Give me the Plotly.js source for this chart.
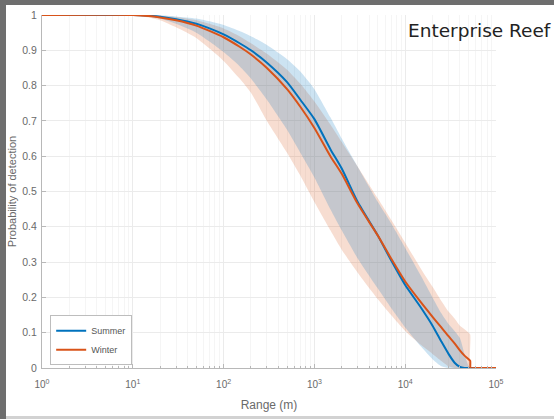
<!DOCTYPE html>
<html><head><meta charset="utf-8">
<script src="https://cdn.plot.ly/plotly-3.0.1.min.js"></script>
<style>
html,body{margin:0;padding:0;width:554px;height:419px;overflow:hidden;background:#6e6e6e;}
#frame{position:absolute;left:6px;top:5px;width:548px;height:414px;background:#d2d2d2;}
#chart{position:absolute;left:0;top:0;width:548px;height:411px;background:#fff;}
</style></head><body>
<div id="frame"><div id="chart"></div></div>
<script>
// Range (m)
const rangeM = [1, 10, 15, 20, 30, 50, 70, 100, 150, 200, 300, 500, 700, 1000, 1500, 2000, 3000, 5000, 7000, 10000, 15000, 20000, 25000, 30000, 35000, 40000, 45000, 50000, 52000, 52500, 60000, 100000];
// Mean probability of detection
const summerMean = [1, 1, 0.998, 0.995, 0.988, 0.975, 0.962, 0.945, 0.92, 0.90, 0.865, 0.81, 0.76, 0.705, 0.62, 0.565, 0.47, 0.375, 0.305, 0.235, 0.17, 0.12, 0.075, 0.04, 0.015, 0.003, 0, 0, 0, 0, 0, 0];
const winterMean = [1, 1, 0.997, 0.993, 0.985, 0.97, 0.955, 0.937, 0.91, 0.888, 0.85, 0.79, 0.74, 0.68, 0.6, 0.55, 0.465, 0.375, 0.31, 0.245, 0.185, 0.145, 0.115, 0.09, 0.07, 0.05, 0.035, 0.025, 0.02, 0, 0, 0];
// Confidence bands
const summerUpper = [1, 1, 1, 0.999, 0.996, 0.99, 0.982, 0.972, 0.955, 0.94, 0.915, 0.875, 0.84, 0.79, 0.71, 0.65, 0.57, 0.47, 0.41, 0.34, 0.26, 0.2, 0.155, 0.125, 0.105, 0.085, 0.04, 0.005, 0, 0, 0, 0];
const summerLower = [1, 1, 0.995, 0.99, 0.975, 0.95, 0.925, 0.895, 0.855, 0.82, 0.76, 0.675, 0.61, 0.54, 0.45, 0.39, 0.31, 0.225, 0.17, 0.115, 0.06, 0.025, 0.005, 0, 0, 0, 0, 0, 0, 0, 0, 0];
const winterUpper = [1, 1, 0.999, 0.998, 0.994, 0.985, 0.975, 0.962, 0.94, 0.92, 0.89, 0.845, 0.805, 0.755, 0.69, 0.64, 0.57, 0.48, 0.42, 0.355, 0.28, 0.23, 0.19, 0.16, 0.14, 0.12, 0.11, 0.1, 0.095, 0, 0, 0];
const winterLower = [1, 1, 0.993, 0.985, 0.965, 0.935, 0.905, 0.87, 0.82, 0.78, 0.70, 0.61, 0.545, 0.47, 0.39, 0.335, 0.27, 0.195, 0.15, 0.105, 0.065, 0.04, 0.02, 0.005, 0, 0, 0, 0, 0, 0, 0, 0];

const xTickVals = [1, 10, 100, 1000, 10000, 100000];
const xTickText = ['10<sup>0</sup>', '10<sup>1</sup>', '10<sup>2</sup>', '10<sup>3</sup>', '10<sup>4</sup>', '10<sup>5</sup>'];
const seriesNames = ['Summer', 'Winter'];
const titleText = 'Enterprise Reef';

const blue = '#0072BD', orange = '#D95319';
const shp = {shape: 'spline', smoothing: 0.6};

const traces = [
  {x: rangeM, y: winterLower, mode: 'lines', line: {width: 0, ...shp}, showlegend: false, hoverinfo: 'skip'},
  {x: rangeM, y: winterUpper, mode: 'lines', line: {width: 0, ...shp}, fill: 'tonexty', fillcolor: 'rgba(217,83,25,0.2)', showlegend: false, hoverinfo: 'skip'},
  {x: rangeM, y: summerLower, mode: 'lines', line: {width: 0, ...shp}, showlegend: false, hoverinfo: 'skip'},
  {x: rangeM, y: summerUpper, mode: 'lines', line: {width: 0, ...shp}, fill: 'tonexty', fillcolor: 'rgba(0,114,189,0.2)', showlegend: false, hoverinfo: 'skip'},
  {x: rangeM, y: summerMean, mode: 'lines', name: seriesNames[0], line: {color: blue, width: 2, ...shp}},
  {x: rangeM, y: winterMean, mode: 'lines', name: seriesNames[1], line: {color: orange, width: 2, ...shp}}
];

const axisCol = '#b8b8b8';
const layout = {
  width: 548, height: 411,
  margin: {l: 36, r: 58, t: 10, b: 48},
  paper_bgcolor: '#ffffff', plot_bgcolor: '#ffffff',
  font: {family: 'Liberation Sans, Arial, sans-serif', color: '#6a6a6a', size: 10},
  showlegend: true,
  xaxis: {
    type: 'log', range: [0, 5], tickmode: 'array', tickvals: xTickVals, ticktext: xTickText,
    showgrid: true, gridcolor: '#ebebeb', zeroline: false, showline: true, linecolor: axisCol,
    ticks: 'inside', ticklen: 4, tickcolor: axisCol, ticklabelstandoff: 7,
    minor: {dtick: 'D1', ticks: 'inside', ticklen: 2, tickcolor: axisCol, showgrid: true, gridcolor: '#f5f5f5'},
    tickfont: {size: 10},
    title: {text: 'Range (m)', font: {size: 12}, standoff: 11}
  },
  yaxis: {
    range: [0, 1], tick0: 0, dtick: 0.1,
    showgrid: true, gridcolor: '#ebebeb', zeroline: false, showline: true, linecolor: axisCol,
    ticks: 'inside', ticklen: 4, tickcolor: axisCol, ticklabelstandoff: 2,
    tickfont: {size: 10.5},
    title: {text: 'Probability of detection', font: {size: 11}, standoff: 4}
  },
  legend: {
    x: 0.018, y: 0.008, xanchor: 'left', yanchor: 'bottom', traceorder: 'normal',
    bgcolor: '#ffffff', bordercolor: '#bdbdbd', borderwidth: 1,
    font: {size: 9, color: '#555'}, itemwidth: 30, tracegroupgap: 0
  },
  annotations: [{
    text: titleText, xref: 'paper', yref: 'paper', x: 1.125, y: 0.9575,
    xanchor: 'right', yanchor: 'middle', showarrow: false,
    font: {family: 'DejaVu Sans, sans-serif', size: 18.5, color: '#222222'}
  }]
};

Plotly.newPlot('chart', traces, layout, {displayModeBar: false, staticPlot: true});
</script></body></html>
